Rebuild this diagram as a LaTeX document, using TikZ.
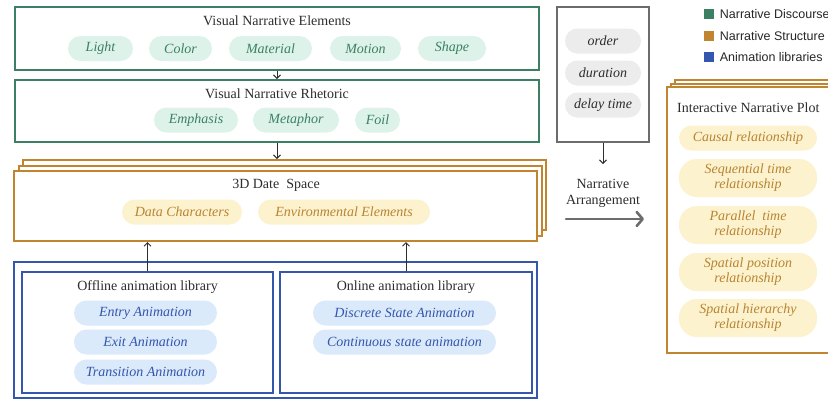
\documentclass[tikz,border=0pt]{standalone}
\usepackage{fontspec}
\setmainfont{Liberation Serif}
\newfontfamily\legendfont{Liberation Sans}
\usetikzlibrary{arrows.meta}
\definecolor{discourse}{RGB}{59, 128, 100}
\definecolor{discoursebg}{RGB}{221, 243, 233}
\definecolor{structure}{RGB}{192, 133, 46}
\definecolor{structurebg}{RGB}{253, 242, 206}
\definecolor{structuretext}{RGB}{184, 132, 50}
\definecolor{library}{RGB}{52, 86, 172}
\definecolor{librarybg}{RGB}{218, 234, 251}
\definecolor{arrange}{RGB}{108, 108, 108}
\definecolor{arrangebg}{RGB}{236, 236, 236}
\definecolor{caption}{RGB}{45, 45, 45}

\tikzset{
    frame/.style={draw=#1, line width=2pt, fill=white, inner sep=0pt},
    heading/.style={text=caption, font=\fontsize{14}{16}\selectfont, inner sep=0pt, align=center},
    pill/.style={rounded corners=12.5pt, minimum height=25pt, inner sep=0pt,
                 font=\fontsize{14}{15}\selectfont\itshape, align=center},
    tallpill/.style={rounded corners=18pt, minimum height=38pt},
    greenpill/.style={pill, fill=discoursebg, text=discourse, minimum width=#1pt},
    orangepill/.style={pill, fill=structurebg, text=structuretext, minimum width=#1pt},
    bluepill/.style={pill, fill=librarybg, text=library, minimum width=#1pt},
    graypill/.style={pill, fill=arrangebg, text=caption, minimum width=#1pt},
    key/.style={fill=#1, minimum size=10pt, inner sep=0pt},
    keytext/.style={anchor=west, xshift=6pt, inner sep=0pt, text=black!85, font=\legendfont\fontsize{12.5}{14}\selectfont},
    thin/.style={draw=caption, line width=1pt, -{Straight Barb[length=3.5pt, width=7pt]}},
    thick/.style={draw=arrange, line width=2.6pt, line cap=round, -{Straight Barb[length=6pt, width=14pt, round]}}
}

\begin{document}
\begin{tikzpicture}[x=1pt, y=-1pt]
        \clip (0,0) rectangle (828,400);
        % narrative discourse
        \node[frame=discourse, minimum width=524pt, minimum height=63pt]  (vne)   at (277.0, 38.5) {};
        \node[heading]                                                     (vnet)  at (277.0, 20.5) {Visual Narrative Elements};
        \node[greenpill=65]  (light)    at (100.5, 48.5) {Light};
        \node[greenpill=63]  (color)    at (180.5, 48.5) {Color};
        \node[greenpill=83]  (material) at (270.5, 48.5) {Material};
        \node[greenpill=71]  (motion)   at (365.5, 48.5) {Motion};
        \node[greenpill=68]  (shape)    at (452.0, 48.5) {Shape};

        \node[frame=discourse, minimum width=524pt, minimum height=62pt]  (vnr)   at (277.0,111.0) {};
        \node[heading]                                                     (vnrt)  at (277.0, 93.5) {Visual Narrative Rhetoric};
        \node[greenpill=84]  (emphasis) at (196.0,120.0) {Emphasis};
        \node[greenpill=86]  (metaphor) at (296.0,120.0) {Metaphor};
        \node[greenpill=45]  (foil)     at (377.5,120.0) {Foil};

        % narrative structure
        \node[frame=structure, minimum width=523pt, minimum height=70pt]  (back)  at (284.5,195.0) {};
        \node[frame=structure, minimum width=523pt, minimum height=70pt]  (mid)   at (280.0,200.5) {};
        \node[frame=structure, minimum width=523pt, minimum height=70pt]  (space) at (275.5,206.0) {};
        \node[heading]                                                     (spacet) at (276.0,185.5) {3D Date\ \ Space};
        \node[orangepill=120] (chars)   at (182.0,212.0) {Data Characters};
        \node[orangepill=172] (environ) at (344.0,212.0) {Environmental Elements};

        % animation libraries
        \node[frame=library, minimum width=523pt, minimum height=136pt]   (libs)  at (275.5,330.0) {};
        \node[frame=library, minimum width=251pt, minimum height=121pt]   (offl)  at (147.5,332.5) {};
        \node[frame=library, minimum width=252pt, minimum height=121pt]   (onl)   at (406.0,332.5) {};
        \node[heading]                                                     (offlt) at (147.5,287.5) {Offline animation library};
        \node[heading]                                                     (onlt)  at (406.0,287.5) {Online animation library};
        \node[bluepill=143]  (entry)      at (145.5,313.0) {Entry Animation};
        \node[bluepill=143]  (exit)       at (145.5,342.0) {Exit Animation};
        \node[bluepill=143]  (transition) at (145.5,372.0) {Transition Animation};
        \node[bluepill=183]  (discrete)   at (404.5,313.0) {Discrete State Animation};
        \node[bluepill=183]  (continuous) at (404.5,342.0) {Continuous state animation};

        % narrative arrangement
        \node[frame=arrange, minimum width=92pt, minimum height=135pt]    (attr)  at (603.0, 74.5) {};
        \node[graypill=76]   (order)    at (603.0, 41.0) {order};
        \node[graypill=76]   (duration) at (603.0, 73.0) {duration};
        \node[graypill=76]   (delay)    at (603.0,105.0) {delay time};
        \node[heading]                                                     (arrange) at (603.0,193.0) {Narrative\\Arrangement};
        \coordinate (gofrom) at (566.0,219.0);
        \coordinate (goto)   at (644.0,219.0);

        % interactive narrative plot
        \node[frame=structure, minimum width=175pt, minimum height=266pt] (pback) at (762.5,213.0) {};
        \node[frame=structure, minimum width=175pt, minimum height=266pt] (pmid)  at (758.5,216.5) {};
        \node[frame=structure, minimum width=175pt, minimum height=266pt] (plot)  at (754.5,220.0) {};
        \node[heading, anchor=west]                                        (plott) at (677.0,107.5) {Interactive Narrative Plot};
        \node[orangepill=138]           (causal)     at (748.0,138.0) {Causal relationship};
        \node[orangepill=138, tallpill] (sequential) at (748.0,178.0) {Sequential time\\relationship};
        \node[orangepill=138, tallpill] (parallel)   at (748.0,225.0) {Parallel\ \ time\\relationship};
        \node[orangepill=138, tallpill] (position)   at (748.0,272.0) {Spatial position\\relationship};
        \node[orangepill=138, tallpill] (hierarchy)  at (748.0,318.0) {Spatial hierarchy\\relationship};

        % legend
        \node[key=discourse] (kd) at (708.5,14.0) {};
        \node[key=structure] (ks) at (708.5,36.0) {};
        \node[key=library]   (kl) at (708.5,57.0) {};
        \node[keytext] (kdt) at (kd.east) {Narrative Discourse};
        \node[keytext] (kst) at (ks.east) {Narrative Structure};
        \node[keytext] (klt) at (kl.east) {Animation libraries};

        % connectors
        \draw[thin]  (vne.south)  -- (vnr.north);
        \draw[thin]  (vnr.south)  -- (vnr.south |- back.north);
        \draw[thin]  (offl.north) -- (offl.north |- space.south);
        \draw[thin]  (onl.north)  -- (onl.north |- space.south);
        \draw[thin]  (attr.south) -- ++(0,21);
        \draw[thick] (gofrom) -- (goto);
\end{tikzpicture}
\end{document}
